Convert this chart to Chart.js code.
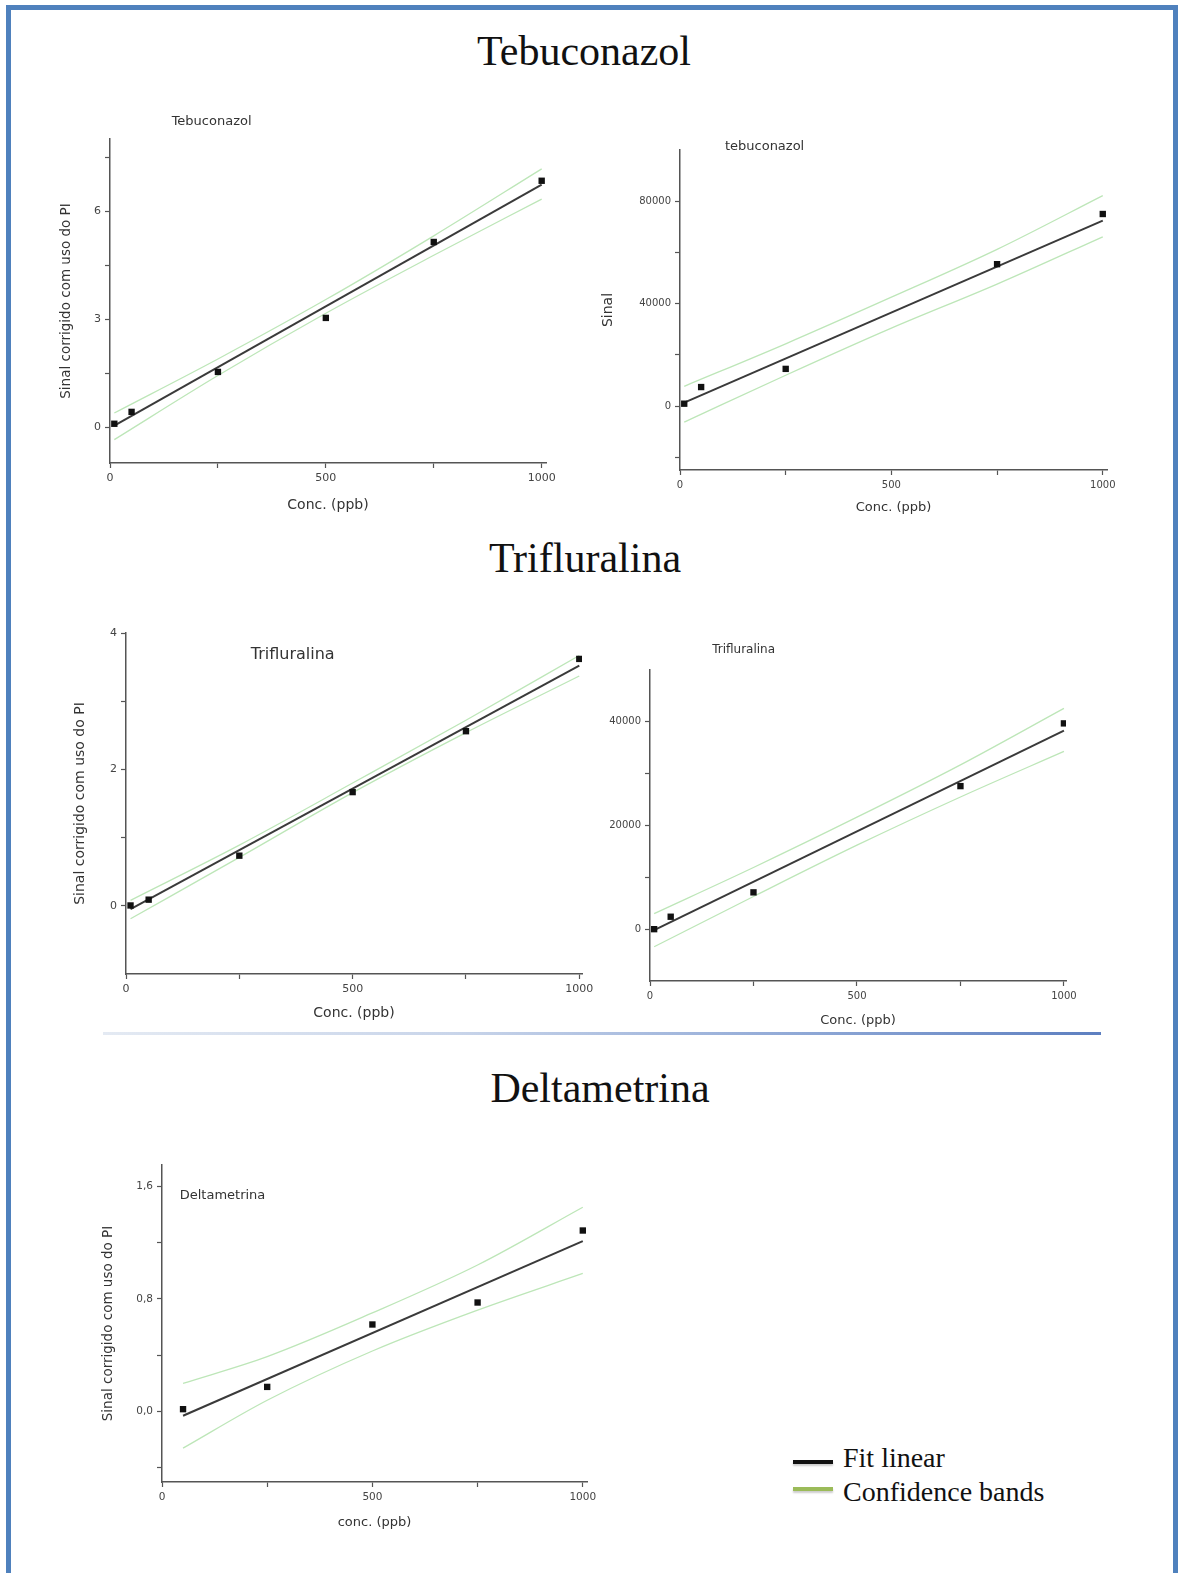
<!DOCTYPE html>
<html>
<head>
<meta charset="utf-8">
<title>Curvas analíticas</title>
<script src="https://cdn.jsdelivr.net/npm/chart.js@4.4.1/dist/chart.umd.min.js"></script>
<style>
html, body { margin: 0; padding: 0; overflow: hidden; background: #fff; }
#page { position: relative; width: 1178px; height: 1573px; }
#frame { position: absolute; left: 6px; top: 5px; width: 1172px; height: 1620px; box-sizing: border-box;
         border: 5px solid #4f81bd; border-bottom: none; }
.big { position: absolute; font-family: "Liberation Serif", serif; font-size: 42px; line-height: 42px;
       color: #111; white-space: nowrap; transform: translateX(-50%); }
.ctitle { position: absolute; font-family: "DejaVu Sans", sans-serif; color: #333; white-space: nowrap;
          transform: translate(-50%, -50%); }
#sep { position: absolute; left: 103px; top: 1032px; width: 998px; height: 3px;
       background: linear-gradient(to right, #e4eaf3, #c9d5ea 35%, #8fa8d6 70%, #5d7fc0); }
.leg-line { position: absolute; left: 793px; width: 40px; height: 4px; box-shadow: 0 2px 2px rgba(0,0,0,0.2); }
.leg-text { position: absolute; left: 843px; font-family: "Liberation Serif", serif; font-size: 28px;
            line-height: 28px; color: #111; white-space: nowrap; }
canvas { position: absolute; }
</style>
</head>
<body>
<div id="page">
  <div id="frame"></div>
  <div class="big" style="left:584px; top:30px;">Tebuconazol</div>
  <div class="big" style="left:585px; top:537px;">Trifluralina</div>
  <div class="big" style="left:600px; top:1067px;">Deltametrina</div>
  <div id="sep"></div>
  <div class="leg-line" style="top:1460px; background:#111;"></div>
  <div class="leg-line" style="top:1487px; background:#9bbb59;"></div>
  <div class="leg-text" style="top:1444px;">Fit linear</div>
  <div class="leg-text" style="top:1478px;">Confidence bands</div>
</div>
<script>
// valores
const concX = [10, 50, 250, 500, 750, 1000];
const concSinal = [10, 50, 250, 750, 1000];
const fitX = [10, 1000];
const bandX = [10, 250, 500, 750, 1000];

// Tebuconazol - sinal corrigido com uso do PI
const tebPI = [0.09, 0.42, 1.53, 3.03, 5.14, 6.84];
const tebPIFit = [0.04, 6.73];
const tebPIUpper = [0.39, 1.89, 3.54, 5.31, 7.17];
const tebPILower = [-0.35, 1.43, 3.16, 4.77, 6.33];

// Tebuconazol - sinal
const tebSinal = [900, 7400, 14500, 55400, 75000];
const tebSinalFit = [1300, 72400];
const tebSinalUpper = [7700, 24300, 42500, 61200, 82200];
const tebSinalLower = [-6300, 12000, 30400, 47600, 66100];

// Trifluralina - sinal corrigido com uso do PI
const triPI = [0.005, 0.09, 0.735, 1.667, 2.56, 3.62];
const triPIFit = [-0.05, 3.52];
const triPIUpper = [0.08, 0.89, 1.80, 2.72, 3.67];
const triPILower = [-0.19, 0.71, 1.66, 2.54, 3.37];

// Trifluralina - sinal
const triSinal = [0, 2400, 7100, 27600, 39700];
const triSinalFit = [-200, 38300];
const triSinalUpper = [3000, 11900, 21600, 31700, 42600];
const triSinalLower = [-3400, 6300, 16200, 25500, 34300];

// Deltametrina
const deltaConc = [50, 250, 500, 750, 1000];
const deltaFitX = [50, 1000];
const deltaPI = [0.017, 0.175, 0.618, 0.774, 1.285];
const deltaFit = [-0.03, 1.21];
const deltaUpper = [0.20, 0.39, 0.70, 1.04, 1.45];
const deltaLower = [-0.26, 0.08, 0.43, 0.72, 0.98];

// ticks
const concTicks = [0, 500, 1000];
const concLabels = ['0', '500', '1000'];
const concMinor = [250, 750];
const tebPITicks = [0, 3, 6];
const tebPILabels = ['0', '3', '6'];
const tebPIMinor = [1.5, 4.5, 7.5];
const tebSinalTicks = [0, 40000, 80000];
const tebSinalLabels = ['0', '40000', '80000'];
const tebSinalMinor = [-20000, 20000, 60000];
const triPITicks = [0, 2, 4];
const triPILabels = ['0', '2', '4'];
const triPIMinor = [1, 3];
const triSinalTicks = [0, 20000, 40000];
const triSinalLabels = ['0', '20000', '40000'];
const triSinalMinor = [10000, 30000];
const deltaTicks = [0, 0.8, 1.6];
const deltaLabels = ['0,0', '0,8', '1,6'];
const deltaMinor = [-0.4, 0.4, 1.2];

const FONT = 'DejaVu Sans';
Chart.defaults.font.family = FONT;

function pts(xs, ys) {
    return xs.map((x, i) => ({ x: x, y: ys[i] }));
}

function rotulo(major, labels) {
    return v => {
        const i = major.indexOf(v);
        return i >= 0 ? labels[i] : '';
    };
}

// posições (px na página) de cada gráfico
const paineis = [
    { box: { l: 110, t: 139, r: 546, b: 463 }, xMax: 1010, yMin: -1, yMax: 8,
      xs: concX, ys: tebPI, fit: tebPIFit, fitX: fitX, bx: bandX, up: tebPIUpper, lo: tebPILower,
      yTicks: tebPITicks, yLabels: tebPILabels, yMinor: tebPIMinor, tickSize: 11,
      yTitle: 'Sinal corrigido com uso do PI', yTitleX: 66.6, yTitleSize: 13.5,
      xTitle: 'Conc. (ppb)', xTitleY: 505, xTitleSize: 14,
      title: 'Tebuconazol', tx: 211.6, ty: 120, tSize: 13 },
    { box: { l: 680, t: 150, r: 1107, b: 470 }, xMax: 1010, yMin: -25000, yMax: 100000,
      xs: concSinal, ys: tebSinal, fit: tebSinalFit, fitX: fitX, bx: bandX, up: tebSinalUpper, lo: tebSinalLower,
      yTicks: tebSinalTicks, yLabels: tebSinalLabels, yMinor: tebSinalMinor, tickSize: 10,
      yTitle: 'Sinal', yTitleX: 608.6, yTitleSize: 14,
      xTitle: 'Conc. (ppb)', xTitleY: 508, xTitleSize: 13,
      title: 'tebuconazol', tx: 764.6, ty: 145, tSize: 13 },
    { box: { l: 126, t: 633, r: 582, b: 974 }, xMax: 1006, yMin: -1, yMax: 4,
      xs: concX, ys: triPI, fit: triPIFit, fitX: fitX, bx: bandX, up: triPIUpper, lo: triPILower,
      yTicks: triPITicks, yLabels: triPILabels, yMinor: triPIMinor, tickSize: 11,
      yTitle: 'Sinal corrigido com uso do PI', yTitleX: 80.4, yTitleSize: 14,
      xTitle: 'Conc. (ppb)', xTitleY: 1013, xTitleSize: 14,
      title: 'Trifluralina', tx: 292.7, ty: 652.7, tSize: 16 },
    { box: { l: 650, t: 670, r: 1066, b: 981 }, xMax: 1005, yMin: -10000, yMax: 50000,
      xs: concSinal, ys: triSinal, fit: triSinalFit, fitX: fitX, bx: bandX, up: triSinalUpper, lo: triSinalLower,
      yTicks: triSinalTicks, yLabels: triSinalLabels, yMinor: triSinalMinor, tickSize: 10,
      yTitle: '', yTitleX: 0, yTitleSize: 14,
      xTitle: 'Conc. (ppb)', xTitleY: 1020.7, xTitleSize: 13,
      title: 'Trifluralina', tx: 743.6, ty: 649, tSize: 12 },
    { box: { l: 162, t: 1165, r: 587, b: 1482 }, xMax: 1010, yMin: -0.5, yMax: 1.75,
      xs: deltaConc, ys: deltaPI, fit: deltaFit, fitX: deltaFitX, bx: deltaConc, up: deltaUpper, lo: deltaLower,
      yTicks: deltaTicks, yLabels: deltaLabels, yMinor: deltaMinor, tickSize: 10.5,
      yTitle: 'Sinal corrigido com uso do PI', yTitleX: 108.2, yTitleSize: 13.5,
      xTitle: 'conc. (ppb)', xTitleY: 1523, xTitleSize: 13,
      title: 'Deltametrina', tx: 222.5, ty: 1194, tSize: 13 }
];

const yW = 85, xH = 55, padT = 14, padR = 22;
const page = document.getElementById('page');

paineis.forEach(p => {
    const w = yW + (p.box.r - p.box.l) + padR;
    const h = padT + (p.box.b - p.box.t) + xH;
    const left = p.box.l - yW;
    const top = p.box.t - padT;

    const cv = document.createElement('canvas');
    cv.width = w;
    cv.height = h;
    cv.style.left = left + 'px';
    cv.style.top = top + 'px';
    cv.style.width = w + 'px';
    cv.style.height = h + 'px';
    page.appendChild(cv);

    const tt = document.createElement('div');
    tt.className = 'ctitle';
    tt.textContent = p.title;
    tt.style.left = p.tx + 'px';
    tt.style.top = p.ty + 'px';
    tt.style.fontSize = p.tSize + 'px';
    page.appendChild(tt);

    const yPadTop = p.yTitleX - left - p.yTitleSize * 0.6;
    const xPadBottom = (p.box.b + xH) - p.xTitleY - p.xTitleSize * 0.6;

    new Chart(cv, {
        type: 'scatter',
        data: {
            datasets: [
                { data: pts(p.xs, p.ys), pointStyle: 'rect', pointRadius: 4.5, backgroundColor: '#111',
                  borderWidth: 0 },
                { data: pts(p.fitX, p.fit), showLine: true, pointRadius: 0, borderColor: '#3a3a3a',
                  borderWidth: 2 },
                { data: pts(p.bx, p.up), showLine: true, pointRadius: 0, borderColor: '#bde6b8',
                  borderWidth: 1.3, cubicInterpolationMode: 'monotone' },
                { data: pts(p.bx, p.lo), showLine: true, pointRadius: 0, borderColor: '#bde6b8',
                  borderWidth: 1.3, cubicInterpolationMode: 'monotone' }
            ]
        },
        options: {
            responsive: false,
            animation: false,
            devicePixelRatio: 1,
            layout: { padding: { top: padT, right: padR, left: 0, bottom: 0 } },
            plugins: { legend: { display: false }, tooltip: { enabled: false } },
            scales: {
                x: {
                    type: 'linear',
                    min: 0,
                    max: p.xMax,
                    afterBuildTicks: s => { s.ticks = concTicks.concat(concMinor).map(v => ({ value: v })); },
                    afterFit: s => { s.height = xH; },
                    ticks: { autoSkip: false, maxRotation: 0, padding: 4, color: '#444',
                             font: { size: p.tickSize }, callback: rotulo(concTicks, concLabels) },
                    grid: { display: true, drawOnChartArea: false, drawTicks: true, tickLength: 5,
                            color: '#555', tickWidth: 1.2 },
                    border: { display: true, color: '#555', width: 1.5 },
                    title: { display: true, text: p.xTitle, color: '#333', font: { size: p.xTitleSize },
                             padding: { top: 0, bottom: xPadBottom } }
                },
                y: {
                    type: 'linear',
                    min: p.yMin,
                    max: p.yMax,
                    afterBuildTicks: s => { s.ticks = p.yTicks.concat(p.yMinor).map(v => ({ value: v })); },
                    afterFit: s => { s.width = yW; },
                    ticks: { autoSkip: false, padding: 4, color: '#444',
                             font: { size: p.tickSize }, callback: rotulo(p.yTicks, p.yLabels) },
                    grid: { display: true, drawOnChartArea: false, drawTicks: true, tickLength: 5,
                            color: '#555', tickWidth: 1.2 },
                    border: { display: true, color: '#555', width: 1.5 },
                    title: { display: p.yTitle !== '', text: p.yTitle, color: '#333',
                             font: { size: p.yTitleSize }, padding: { top: yPadTop, bottom: 0 } }
                }
            }
        }
    });
});
</script>
</body>
</html>
